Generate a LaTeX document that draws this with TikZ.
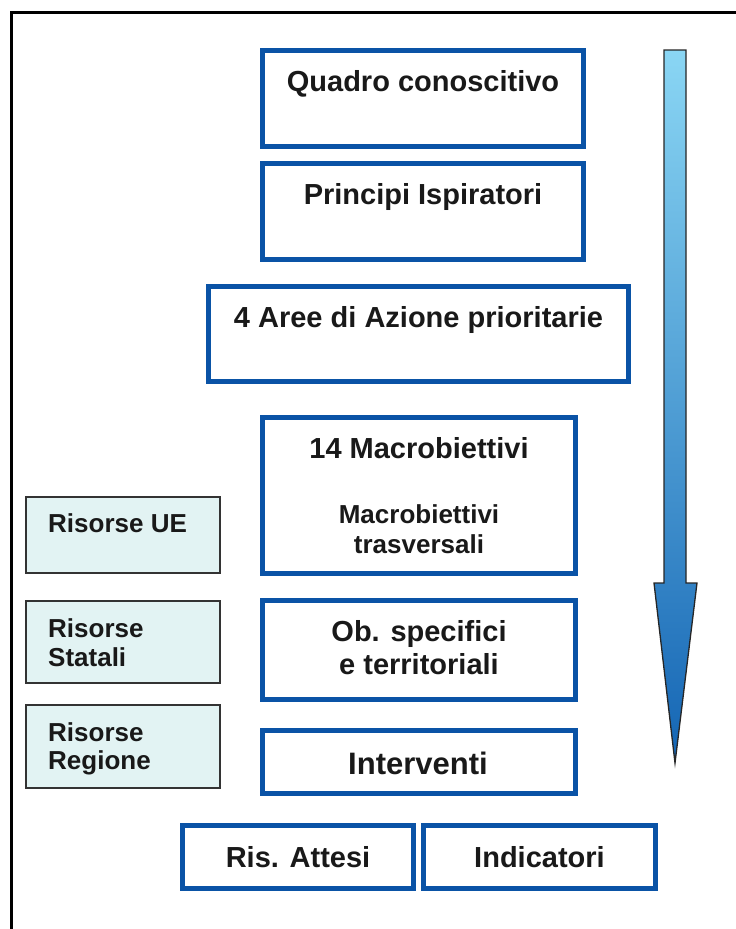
\documentclass[tikz,border=0pt]{standalone}
\usepackage{fontspec}
\setmainfont{Liberation Sans}
\definecolor{boxblue}{HTML}{0A53A6}
\definecolor{resfill}{HTML}{E2F3F3}
\definecolor{resline}{HTML}{333333}
\definecolor{arrtop}{HTML}{8AD6F4}
\definecolor{arrbot}{HTML}{1465B4}
\tikzset{
  bluebox/.style={draw=boxblue, line width=5pt, fill=white, inner sep=0pt, rectangle},
  resbox/.style={draw=resline, line width=1.8pt, fill=resfill, inner sep=0pt, rectangle},
  txt/.style={anchor=base, inner sep=0pt, font=\fontsize{29}{34}\selectfont\bfseries, text=black!90},
  smalltxt/.style={anchor=base, inner sep=0pt, font=\fontsize{26}{30}\selectfont\bfseries, text=black!90},
  restxt/.style={anchor=base west, inner sep=0pt, font=\fontsize{26}{30}\selectfont\bfseries, text=black!90},
}
\begin{document}
\begin{tikzpicture}[x=1pt,y=-1pt]
\useasboundingbox (0,0) rectangle (736,929);
% outer frame
\draw[line width=3pt, black] (11.5,940) -- (11.5,12) -- (745,12);
% arrow
\shade[top color=arrtop, bottom color=arrbot, draw=black!85, line width=1.3pt, line join=miter]
  (664,50) -- (686,50) -- (686,583) -- (697,583) -- (675,763) -- (654,583) -- (664,583) -- cycle;
% blue boxes
\node[bluebox, minimum width=321pt, minimum height=96pt] (quadro) at (423,98.5) {};
\node[txt] (tquadro) at (423,91) {Quadro conoscitivo};
\node[bluebox, minimum width=321pt, minimum height=96pt] (principi) at (423,211.5) {};
\node[txt] (tprincipi) at (423,204) {Principi Ispiratori};
\node[bluebox, minimum width=420pt, minimum height=95pt] (aree) at (418.5,334) {};
\node[txt] (taree) at (418.5,327) {4 Aree di Azione prioritarie};
\node[bluebox, minimum width=313pt, minimum height=156pt] (macro) at (419,495.5) {};
\node[txt] (tmacro) at (419,458) {14 Macrobiettivi};
\node[smalltxt] (tmacroa) at (419,523) {Macrobiettivi};
\node[smalltxt] (tmacrob) at (419,553) {trasversali};
\node[bluebox, minimum width=313pt, minimum height=99pt] (obs) at (419,650) {};
\node[txt] (tobsa) at (419,641) {Ob. specifici};
\node[txt] (tobsb) at (419,674) {e territoriali};
\node[bluebox, minimum width=313pt, minimum height=63pt] (interv) at (419,762) {};
\node[txt, font=\fontsize{31}{36}\selectfont\bfseries] (tinterv) at (418,774) {Interventi};
\node[bluebox, minimum width=231pt, minimum height=63pt] (ris) at (298,857) {};
\node[txt] (tris) at (298,867) {Ris. Attesi};
\node[bluebox, minimum width=232pt, minimum height=63pt] (ind) at (539.5,857) {};
\node[txt] (tind) at (539.5,867) {Indicatori};
% resource boxes
\node[resbox, minimum width=194pt, minimum height=76pt] (rue) at (123,535) {};
\node[restxt] (true) at (48,532) {Risorse UE};
\node[resbox, minimum width=194pt, minimum height=82pt] (rstat) at (123,642) {};
\node[restxt] (tstata) at (48,637) {Risorse};
\node[restxt] (tstatb) at (48,666) {Statali};
\node[resbox, minimum width=194pt, minimum height=83pt] (rreg) at (123,746.5) {};
\node[restxt] (trega) at (48,741) {Risorse};
\node[restxt] (tregb) at (48,769) {Regione};
\end{tikzpicture}
\end{document}
